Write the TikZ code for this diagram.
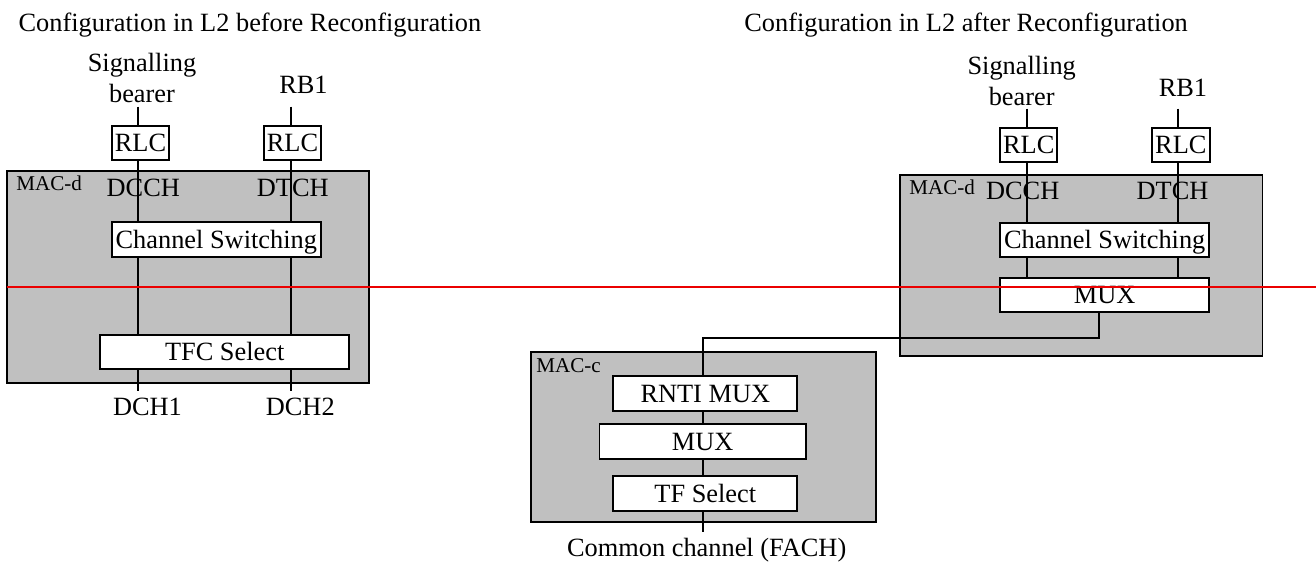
\documentclass[tikz,border=0pt]{standalone}
\usepackage{fontspec}
\setmainfont{Liberation Serif}
\usetikzlibrary{positioning}
\definecolor{macgray}{RGB}{192,192,192}
\definecolor{cutred}{RGB}{235,0,0}
\tikzset{
  blk/.style={draw,fill=white,line width=1.1pt,inner sep=0pt,minimum height=0.69cm,
    text height=9.9pt,text depth=0pt,font=\fontsize{15}{17.6}\selectfont},
  macbox/.style={draw,fill=macgray,line width=1.1pt,inner sep=0pt},
  lbl/.style={inner sep=0pt,font=\fontsize{15}{17.6}\selectfont},
  tag/.style={inner sep=0pt,anchor=base west,font=\fontsize{12}{14}\selectfont},
  wire/.style={line width=1.1pt}
}

\begin{document}
\begin{tikzpicture}[x=0.02cm,y=-0.02cm]
\useasboundingbox (0,0) rectangle (1316,562);
\node[lbl,anchor=base west] (titleA) at (18.3,31.7) {Configuration in L2 before Reconfiguration};
\node[lbl,anchor=base west] (titleB) at (744,31.7) {Configuration in L2 after Reconfiguration};

% before reconfiguration
\node[macbox,minimum width=7.25cm,minimum height=4.24cm] (macdA) at (188,276.7) {};
\node[tag] (macdAtag) at (16,190.7) {MAC-d};
\node[blk,minimum width=1.15cm] (rlcA) at (140.5,143) {RLC};
\node[blk,minimum width=1.15cm] (rlcB) at (292.5,143) {RLC};
\node[blk,minimum width=4.19cm] (csA) at (216.3,239.5) {Channel Switching};
\node[blk,minimum width=4.99cm] (tfcA) at (224.7,351.8) {TFC Select};
\node[lbl,anchor=south,align=center] (sigA) at (142,103) {Signalling\\bearer};
\node[lbl,anchor=base] (rbA) at (303.5,93) {RB1};
\node[lbl,anchor=base] (dcchA) at (143.3,196.7) {DCCH};
\node[lbl,anchor=base] (dtchA) at (292.8,196.7) {DTCH};
\node[lbl,anchor=base] (dch1) at (147.5,415.7) {DCH1};
\node[lbl,anchor=base] (dch2) at (300.3,415.7) {DCH2};
\foreach \col/\x/\rlc in {1/138.3/rlcA,2/290.7/rlcB}{
  \coordinate (inA\col) at (\x,106.5);
  \coordinate (outA\col) at (\x,390.7);
  \draw[wire] (inA\col) -- (inA\col |- \rlc.north)
    (inA\col |- \rlc.south) -- (inA\col |- csA.north)
    (inA\col |- csA.south) -- (inA\col |- tfcA.north)
    (inA\col |- tfcA.south) -- (outA\col);
}

% after reconfiguration
\node[macbox,minimum width=7.25cm,minimum height=3.61cm] (macdB) at (1081.3,265.3) {};
\node[tag] (macdBtag) at (909,194.3) {MAC-d};
\node[blk,minimum width=1.15cm] (rlcC) at (1028.7,145.2) {RLC};
\node[blk,minimum width=1.15cm] (rlcD) at (1180.8,145.2) {RLC};
\node[blk,minimum width=4.19cm] (csB) at (1104.7,240) {Channel Switching};
\node[blk,minimum width=4.19cm] (muxB) at (1104.7,294.8) {MUX};
\node[lbl,anchor=south,align=center] (sigB) at (1021.7,106) {Signalling\\bearer};
\node[lbl,anchor=base] (rbB) at (1183,96) {RB1};
\node[lbl,anchor=base] (dcchB) at (1022.7,199) {DCCH};
\node[lbl,anchor=base] (dtchB) at (1172.5,199) {DTCH};
\foreach \col/\x/\rlc in {1/1026.7/rlcC,2/1178.3/rlcD}{
  \coordinate (inB\col) at (\x,108.7);
  \draw[wire] (inB\col) -- (inB\col |- \rlc.north)
    (inB\col |- \rlc.south) -- (inB\col |- csB.north)
    (inB\col |- csB.south) -- (inB\col |- muxB.north);
}

% common channel
\node[macbox,minimum width=6.9cm,minimum height=3.39cm] (macc) at (703.5,437) {};
\node[tag] (macctag) at (536,372.7) {MAC-c};
\node[blk,minimum width=3.68cm] (rnti) at (705.3,393.3) {RNTI MUX};
\node[blk,minimum width=4.13cm] (muxC) at (702.7,441.5) {MUX};
\node[blk,minimum width=3.68cm] (tfs) at (705.3,493.7) {TF Select};
\node[lbl,anchor=base] (fach) at (706.7,556) {Common channel (FACH)};
\coordinate (outC) at (703.3,532.3);
\coordinate (bend) at (1099,338.3);
\draw[wire] (outC |- rnti.south) -- (outC |- muxC.north)
  (outC |- muxC.south) -- (outC |- tfs.north)
  (outC |- tfs.south) -- (outC);
\draw[wire] (bend |- muxB.south) -- (bend) -- (bend -| outC) -- (outC |- rnti.north);

% cut line
\coordinate (cutL) at (6.7,287.3);
\coordinate (cutR) at (1316,287.3);
\draw[cutred,line width=1pt] (cutL) -- (cutR);
\end{tikzpicture}
\end{document}
